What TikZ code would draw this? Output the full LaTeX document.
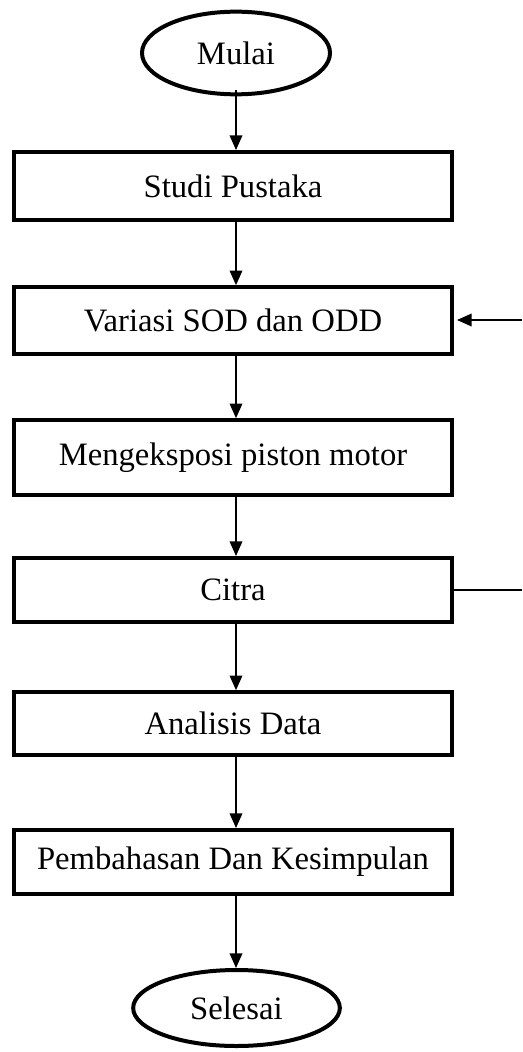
\documentclass[tikz,border=0pt]{standalone}
\usepackage{fontspec}
\setmainfont{Liberation Serif}
\usetikzlibrary{shapes.geometric,arrows.meta}
\begin{document}
\begin{tikzpicture}[x=0.75pt,y=-0.75pt,
  every node/.style={font=\fontsize{24.5}{28}\selectfont, inner sep=0pt},
  stepbox/.style={draw, line width=3pt, minimum width=328.5pt},
  terminal/.style={draw, ellipse, line width=3pt},
  flow/.style={line width=1.2pt, -{Triangle[length=11pt,width=9.5pt]}},
  plain/.style={line width=1.1pt}]
\useasboundingbox (0,0) rectangle (522,1052);
% start / end
\node[terminal, minimum width=141pt, minimum height=62pt] (mulai) at (236,53) {Mulai};
\node[terminal, minimum width=155pt, minimum height=57pt] (selesai) at (236.5,1008) {Selesai};
% process steps
\node[stepbox, minimum height=51pt] (studi) at (233,186) {Studi Pustaka};
\node[stepbox, minimum height=50pt] (variasi) at (233,320.5) {Variasi SOD dan ODD};
\node[stepbox, minimum height=56pt] (ekspos) at (233,457.5) {Mengeksposi piston motor};
\node[stepbox, minimum height=48pt] (citra) at (233,590) {Citra};
\node[stepbox, minimum height=47pt] (analisis) at (233,723.5) {Analisis Data};
\node[stepbox, minimum height=48pt] (bahas) at (233,862) {Pembahasan Dan Kesimpulan};
% main flow
\draw[flow] (236,90) -- (studi.north -| 236,0);
\draw[flow] (studi.south -| 236,0) -- (variasi.north -| 236,0);
\draw[flow] (variasi.south -| 236,0) -- (ekspos.north -| 236,0);
\draw[flow] (ekspos.south -| 236,0) -- (citra.north -| 236,0);
\draw[flow] (citra.south -| 236,0) -- (analisis.north -| 236,0);
\draw[flow] (analisis.south -| 236,0) -- (bahas.north -| 236,0);
\draw[flow] (bahas.south -| 236,0) -- (selesai.north -| 236,0);
% loop back to the variation step
\coordinate (loopout) at (522,590);
\coordinate (loopin) at (522,320);
\coordinate (looptip) at (457,320);
\draw[plain] (citra.east) -- (loopout);
\draw[flow] (loopin) -- (looptip);
\end{tikzpicture}
\end{document}
